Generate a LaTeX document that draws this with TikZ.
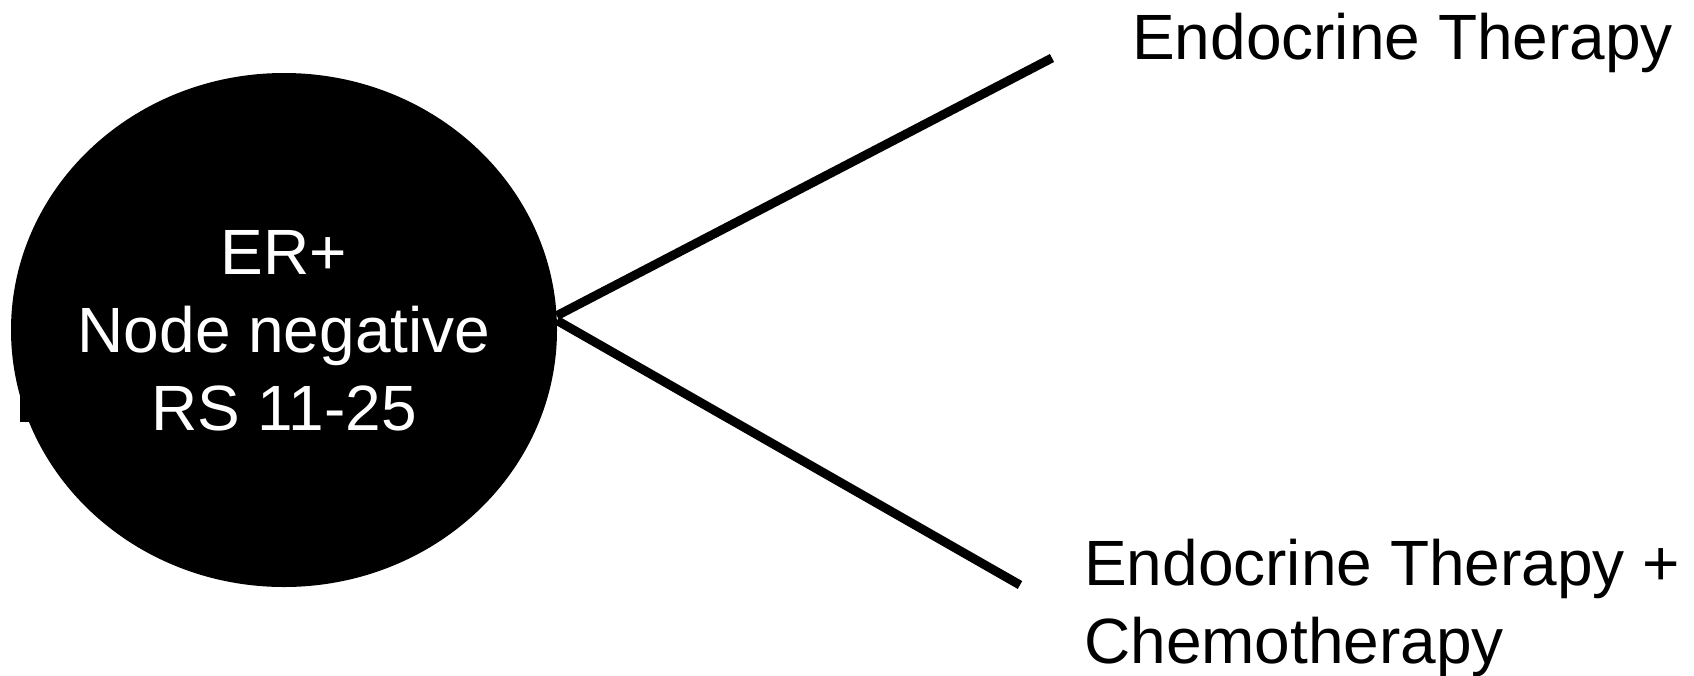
\documentclass[tikz,border=0pt]{standalone}
\usepackage{fontspec}
\setmainfont{Liberation Sans}
\usetikzlibrary{shapes.geometric}
\begin{document}
\begin{tikzpicture}[x=1pt,y=-1pt,
  bigtext/.style={font=\fontsize{64}{78}\selectfont, inner sep=0pt},
  blob/.style={ellipse, fill=black, draw=none, minimum width=546pt, minimum height=514pt, inner sep=0pt},
  branch/.style={line width=9pt, line cap=butt}]
\useasboundingbox (0,0) rectangle (1694,675);
\fill[white] (0,0) rectangle (1694,675);
\fill[black] (20,390) rectangle (30,422);
\node[blob] (er) at (284,330) {};
\node[bigtext, text=white, align=center] (ertext) at (284,331) {ER+\\Node negative\\RS 11-25};
\node[bigtext, anchor=base west] (et) at (1132,59) {Endocrine Therapy};
\node[bigtext, anchor=base west, align=left] (etc) at (1084,663) {Endocrine Therapy +\\Chemotherapy};
\coordinate (e1) at (1052,58);
\coordinate (e2) at (1020,585);
\draw[branch] (er.3.6) -- (e1);
\draw[branch] (er.2.4) -- (e2);
\end{tikzpicture}
\end{document}
